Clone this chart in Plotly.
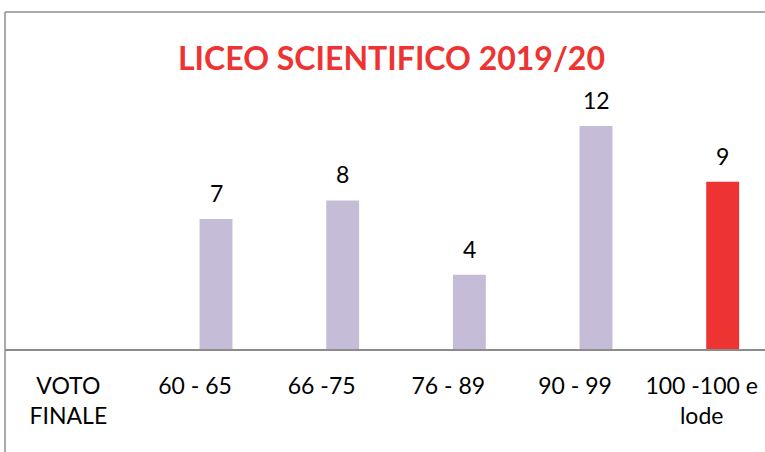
import plotly.graph_objects as go

# data
categories = ['VOTO FINALE', '60 - 65', '66 -75', '76 - 89', '90 - 99', '100 -100 e lode']
tick_labels = ['VOTO<br>FINALE', '60 - 65', '66 -75', '76 - 89', '90 - 99', '100 -100 e<br>lode']
values = [None, 7, 8, 4, 12, 9]
bar_colors = ['#C5BDD8', '#C5BDD8', '#C5BDD8', '#C5BDD8', '#C5BDD8', '#EE3333']

FONT = 'Lato, Open Sans, sans-serif'
GRAY = '#8C8C8C'
BAR_W = 0.26
BAR_OFFSET = 0.036  # bars sit a little right of the category centre, like the original

fig = go.Figure()
fig.add_trace(go.Bar(
    x=categories,
    y=values,
    marker=dict(color=bar_colors, line=dict(width=0)),
    width=BAR_W,
    offset=BAR_OFFSET,
    hoverinfo='x+y',
    showlegend=False
))

# value labels sitting above the bars
for i, val in enumerate(values):
    if val is None:
        continue
    fig.add_annotation(
        x=i + BAR_OFFSET + BAR_W / 2, y=val, text=str(val), showarrow=False,
        yanchor='bottom', yshift=10,
        font=dict(family=FONT, size=23, color='black')
    )

fig.add_annotation(
    text='<b>LICEO SCIENTIFICO 2019/20</b>',
    xref='paper', yref='paper', x=0.508, y=0.866,
    xanchor='center', yanchor='middle', showarrow=False,
    font=dict(family=FONT, size=32, color='#EE3333')
)

# frame lines (left and top)
fig.add_shape(type='line', xref='paper', yref='paper', x0=0, x1=0, y0=-0.32, y1=1,
              line=dict(color=GRAY, width=1.5))
fig.add_shape(type='line', xref='paper', yref='paper', x0=0, x1=1.01, y0=1, y1=1,
              line=dict(color=GRAY, width=1.5))

fig.update_layout(
    width=765,
    height=452,
    margin=dict(l=5, r=0, t=12, b=103),
    plot_bgcolor='white',
    paper_bgcolor='white',
    font=dict(family=FONT, size=23, color='black'),
    xaxis=dict(
        type='category',
        range=[-0.5, 5.5],
        tickvals=categories,
        ticktext=tick_labels,
        showline=True,
        linecolor=GRAY,
        linewidth=1.5,
        ticks='',
        showgrid=False,
        automargin=False,
        ticklabelstandoff=16,
        tickfont=dict(family=FONT, size=23, color='black')
    ),
    yaxis=dict(
        range=[0, 18.14],
        visible=False,
        showgrid=False,
        zeroline=False,
        automargin=False
    )
)

# drop the browser's default body margin so the figure sits at the page corner
fig.write_html('out.html', config={'displayModeBar': False},
               post_script="document.body.style.margin = '0px';")
